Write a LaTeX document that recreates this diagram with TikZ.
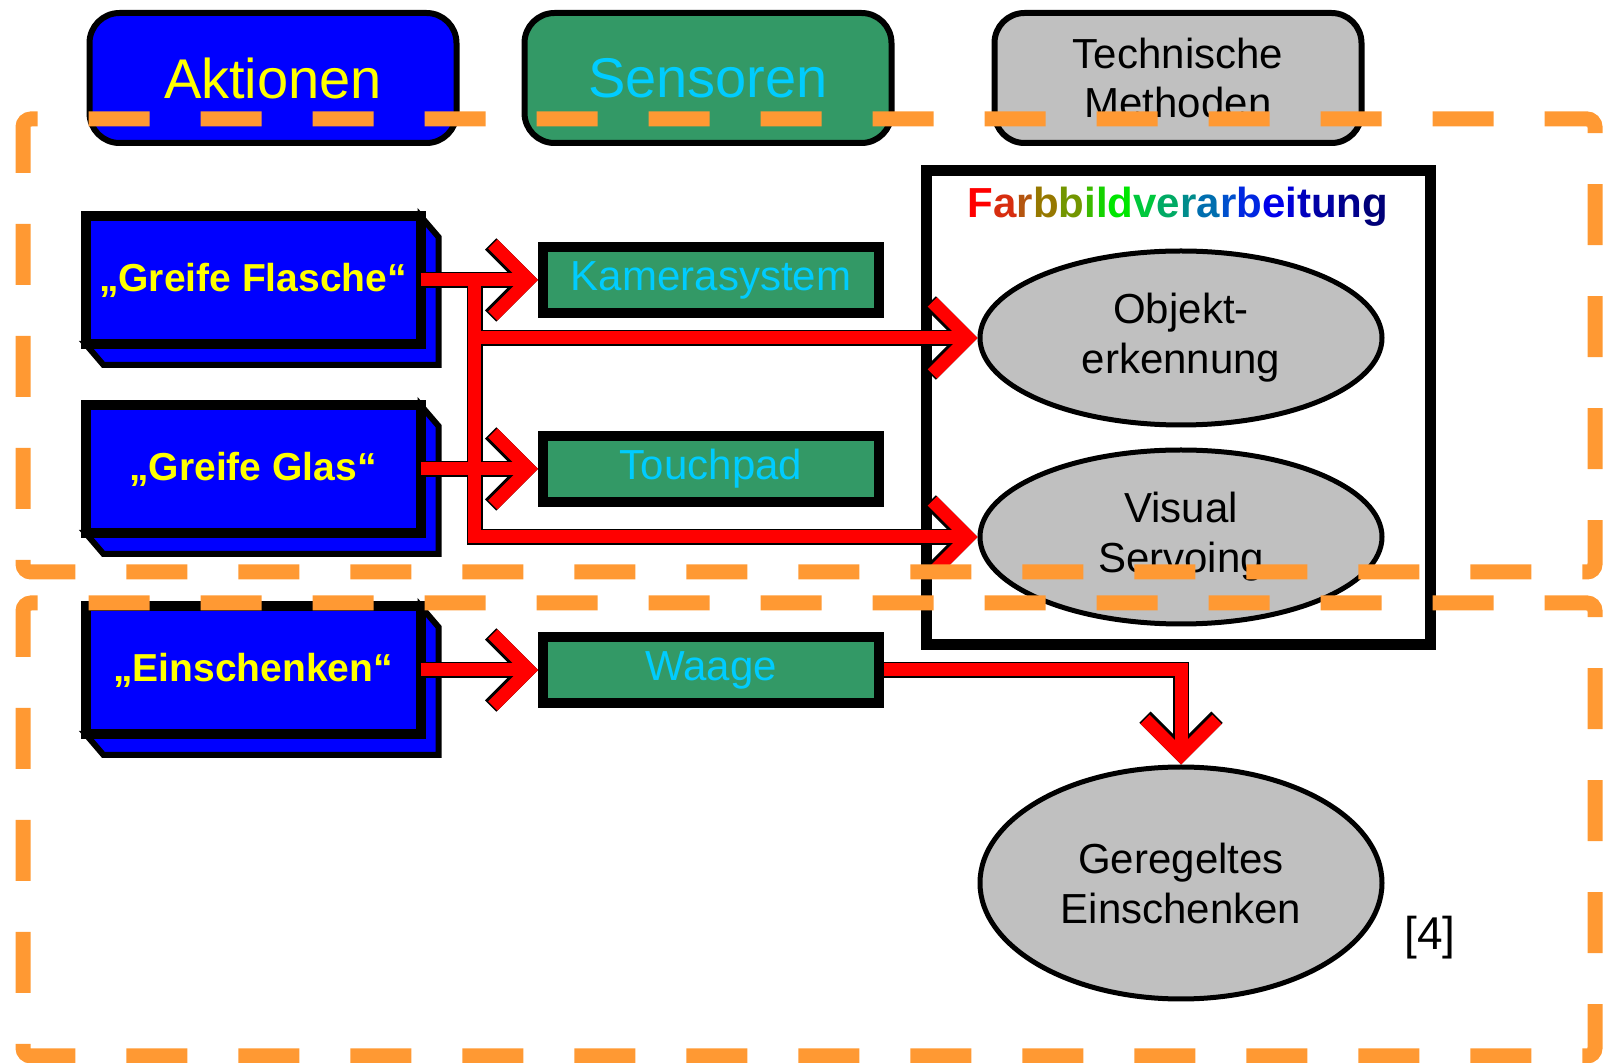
\documentclass[tikz,border=0pt]{standalone}
\usepackage{fontspec}
\setmainfont{Liberation Sans}
\usetikzlibrary{arrows.meta,shapes.geometric,backgrounds}

\definecolor{aktblau}{RGB}{0,0,255}
\definecolor{sensgruen}{RGB}{51,153,102}
\definecolor{senscyan}{RGB}{0,204,255}
\definecolor{aktgelb}{RGB}{255,255,0}
\definecolor{methgrau}{RGB}{192,192,192}
\definecolor{zonenorange}{RGB}{255,153,51}
\definecolor{pfeilrot}{RGB}{255,0,0}

\newcommand{\fb}[2]{\textcolor[RGB]{#1}{#2}}

\tikzset{
  kopf/.style={rectangle, rounded corners=15pt, draw=black, line width=3pt,
    minimum width=183.5pt, minimum height=65pt, inner sep=0pt, align=center},
  aktion/.style={rectangle, draw=black, fill=aktblau, line width=5pt,
    minimum width=167.5pt, minimum height=64pt, inner sep=0pt, outer sep=0pt,
    text=aktgelb, font=\fontsize{19.5}{22}\selectfont\bfseries},
  seite/.style={draw=black, fill=aktblau, line width=3pt, line join=miter},
  sensor/.style={rectangle, draw=black, fill=sensgruen, line width=5pt,
    minimum width=168pt, minimum height=33pt, inner sep=0pt,
    text=senscyan, font=\fontsize{21}{24}\selectfont},
  methode/.style={ellipse, draw=black, fill=methgrau, line width=2.5pt,
    minimum width=201pt, minimum height=87pt, inner sep=0pt, align=center,
    font=\fontsize{21}{25}\selectfont},
  conn/.style 2 args={draw=#1, line width=#2, line join=miter,
    -{Straight Barb[length=18pt, width=36pt, line join=miter, line cap=butt]}},
  zone/.style={draw=zonenorange, line width=7.5pt,
    dash pattern=on 30.5pt off 25.5pt, rounded corners=4pt}
}

\begin{document}
\begin{tikzpicture}[x=0.5pt, y=-0.5pt]
\useasboundingbox (0,0) rectangle (1603,1063);

% Kopfzeile
\node[kopf, fill=aktblau, text=aktgelb, font=\fontsize{28}{30}\selectfont] (akt) at (273,78) {Aktionen};
\node[kopf, fill=sensgruen, text=senscyan, font=\fontsize{28}{30}\selectfont] (sens) at (708,78) {Sensoren};
\node[kopf, fill=methgrau, font=\fontsize{21}{24.5}\selectfont] (meth) at (1178,78) {Technische\\Methoden};

% Farbbildverarbeitung
\node[draw=black, line width=5.5pt, minimum width=252pt, minimum height=237pt, inner sep=0pt] (farb) at (1178,408) {};
\node[anchor=base, font=\fontsize{21}{24}\selectfont\bfseries] (farbtitel) at (1178,218)
  {\fb{255,0,0}{F}\fb{215,45,15}{a}\fb{180,85,15}{r}\fb{150,120,0}{b}\fb{115,150,0}{b}\fb{60,185,0}{i}\fb{20,210,0}{l}\fb{0,230,0}{d}\fb{0,200,60}{v}\fb{0,170,100}{e}\fb{0,140,140}{r}\fb{0,110,175}{a}\fb{0,80,205}{r}\fb{0,40,225}{b}\fb{0,0,235}{e}\fb{0,0,215}{i}\fb{0,0,190}{t}\fb{0,0,165}{u}\fb{0,0,140}{n}\fb{0,0,120}{g}};

% Aktionen
\node[aktion] (gf) at (253,280) {„Greife Flasche“};
\node[aktion] (gg) at (253,469) {„Greife Glas“};
\node[aktion] (ein) at (253,670) {„Einschenken“};
\begin{scope}[on background layer]
\foreach \n in {gf,gg,ein}
  \draw[seite] (\n.north east) -- ++(18,21) -- ([shift={(18,21)}]\n.south east)
    -- ([shift={(18,21)}]\n.south west) -- (\n.south west) -- (\n.south east) -- cycle;
\end{scope}

% Sensoren
\node[sensor] (kam) at (711,280) {Kamerasystem};
\node[sensor] (touch) at (711,469) {Touchpad};
\node[sensor] (waage) at (711,670) {Waage};

% Methoden
\node[methode] (obj) at (1181,338) {Objekt-\\erkennung};
\node[methode] (vis) at (1181,537) {Visual\\Servoing};
\node[methode, minimum height=116pt] (ger) at (1181,883) {Geregeltes\\Einschenken};
\node[font=\fontsize{23}{26}\selectfont] (quelle) at (1430,938) {[4]};

% Pfeile
\coordinate (split) at ([xshift=27pt]gf.east);
\foreach \farbe/\breite in {black/8pt, pfeilrot/6.5pt} {
  \draw[conn={\farbe}{\breite}] (gf.east) -- (kam.west);
  \draw[conn={\farbe}{\breite}] (split) |- (obj.west);
  \draw[conn={\farbe}{\breite}] (split) |- (vis.west);
  \draw[conn={\farbe}{\breite}] (gg.east) -- (touch.west);
  \draw[conn={\farbe}{\breite}] (ein.east) -- (waage.west);
  \draw[conn={\farbe}{\breite}] (waage.east) -| (ger.north);
}

% Zonen
\draw[zone] (23,177) -- (23,119) -- (1595,119) -- (1595,572) -- (23,572) -- cycle;
\draw[zone] (23,661) -- (23,603) -- (1595,603) -- (1595,1056) -- (23,1056) -- cycle;
\end{tikzpicture}
\end{document}
